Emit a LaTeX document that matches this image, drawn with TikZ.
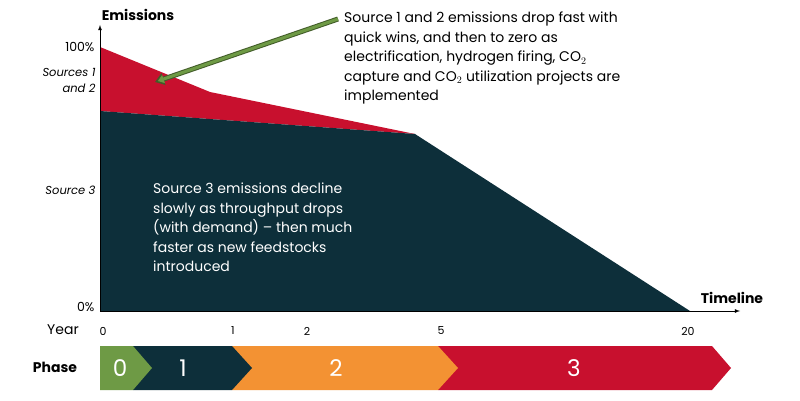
\documentclass[tikz,border=0pt]{standalone}
\usepackage{fontspec}
\setmainfont{Poppins}
\usetikzlibrary{arrows.meta}
\definecolor{dk}{HTML}{0D2F3A}
\definecolor{rd}{HTML}{C8102E}
\definecolor{gr}{HTML}{6E9A45}
\definecolor{og}{HTML}{F39233}
\begin{document}
\begin{tikzpicture}[x=1pt,y=-1pt,
  lab/.style={font=\fontsize{12.5}{15}\selectfont},
  big/.style={font=\fontsize{14}{19.5}\selectfont,align=left,anchor=north west,inner sep=0pt},
  ph/.style={font=\fontsize{23}{26}\selectfont,text=white}]
\useasboundingbox (0,0) rectangle (800,401);
\fill[rd] (100,47) -- (210,92) -- (415,134) -- (100,111) -- cycle;
\fill[dk] (100,111) -- (415,134) -- (690,311) -- (100,311) -- cycle;
\coordinate (y0) at (100,311); \coordinate (yt) at (100,25); \coordinate (xt) at (740,311);
\draw[-latex,thick] (y0) -- (yt);
\draw[-latex,thick] (y0) -- (xt);
\node[font=\bfseries\fontsize{14}{16}\selectfont] (em) at (138,15) {Emissions};
\node[font=\bfseries\fontsize{14}{16}\selectfont] (tl) at (732,298) {Timeline};
\node[lab,anchor=east] (p100) at (98,47) {100\%};
\node[lab,anchor=east] (p0) at (98,307) {0\%};
\node[anchor=east,align=right,font=\itshape\fontsize{11.5}{16}\selectfont] (s12) at (99,80) {Sources 1\\and 2};
\node[anchor=east,font=\itshape\fontsize{11.5}{14}\selectfont] (s3) at (99,190) {Source 3};
\node[big] (t1) at (344,12) {Source 1 and 2 emissions drop fast with\\quick wins, and then to zero as\\electrification, hydrogen firing, CO$_2$\\capture and CO$_2$ utilization projects are\\implemented};
\node[big,text=white] (t3) at (153,183) {Source 3 emissions decline\\slowly as throughput drops\\(with demand) -- then much\\faster as new feedstocks\\introduced};
\coordinate (as) at (338,19); \coordinate (ae) at (155,82);
\draw[line width=5pt,draw=gr!60!black,-{Triangle[length=9pt,width=12pt]}] (as) -- (ae);
\draw[line width=3pt,draw=gr,shorten >=3pt,-{Triangle[length=6pt,width=8pt]}] (as) -- (ae);
\node[font=\fontsize{14}{16}\selectfont] (yr) at (63,330) {Year};
\foreach \x/\t in {103/0,233/1,307/2,441/5,688/20}
  \node[font=\fontsize{11}{13}\selectfont] (y\t) at (\x,331) {\t};
\node[font=\bfseries\fontsize{14}{16}\selectfont] (ph) at (55,367) {Phase};
\fill[rd] (438,346) -- (712,346) -- (731,368) -- (712,390) -- (438,390) -- cycle;
\fill[og] (232,346) -- (438,346) -- (458,368) -- (438,390) -- (232,390) -- cycle;
\fill[dk] (133,346) -- (232,346) -- (252,368) -- (232,390) -- (133,390) -- cycle;
\fill[gr] (100,346) -- (133,346) -- (152,368) -- (133,390) -- (100,390) -- cycle;
\node[ph] (q0) at (120,368) {0};
\node[ph] (q1) at (183,368) {1};
\node[ph] (q2) at (336,368) {2};
\node[ph] (q3) at (574,368) {3};
\end{tikzpicture}
\end{document}
